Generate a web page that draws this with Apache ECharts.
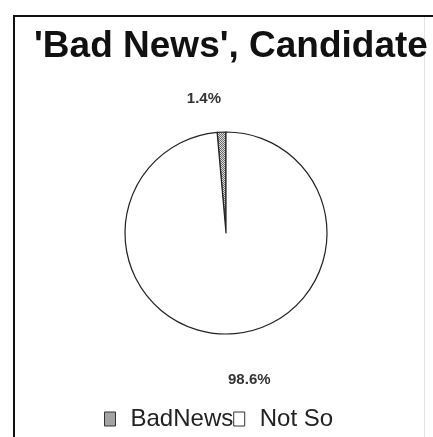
<!DOCTYPE html>
<html>
<head>
<meta charset="utf-8">
<script src="https://cdn.jsdelivr.net/npm/echarts@6/dist/echarts.min.js"></script>
<style>
html,body{margin:0;padding:0;background:#fff;}
#c{width:433px;height:437px;}
</style>
</head>
<body>
<div id="c"></div>
<script>
var titleText = "'Bad News', Candidate";
var categories = ['BadNews', 'Not So'];
var values = [1.4, 98.6];
var labelTexts = ['1.4%', '98.6%'];

function makePattern() {
  var cv = document.createElement('canvas');
  cv.width = 2; cv.height = 2;
  var ctx = cv.getContext('2d');
  ctx.fillStyle = '#dcdcdc';
  ctx.fillRect(0, 0, 2, 2);
  ctx.fillStyle = '#6a6a6a';
  ctx.fillRect(0, 0, 1, 1);
  ctx.fillRect(1, 1, 1, 1);
  return cv;
}
var pattern = { image: makePattern(), repeat: 'repeat' };
var fills = [pattern, '#ffffff'];
var labelShift = [{ dx: 1, dy: 3 }, { dx: -4, dy: 10 }];

var chart = echarts.init(document.getElementById('c'), null, {renderer: 'canvas'});
var data = categories.map(function (name, i) {
  return {
    name: name,
    value: values[i],
    itemStyle: { color: fills[i] },
    label: { formatter: labelTexts[i] }
  };
});

chart.setOption({
  backgroundColor: '#ffffff',
  animation: false,
  title: {
    text: titleText,
    left: 226,
    textAlign: 'center',
    top: 23,
    textStyle: { fontFamily: 'Liberation Sans, Arial, sans-serif', fontSize: 37, fontWeight: 'bold', color: '#111' }
  },
  legend: {
    left: 99,
    top: 402,
    itemWidth: 11,
    itemHeight: 14,
    itemGap: 0,
    icon: 'rect',
    data: categories,
    textStyle: { fontFamily: 'Liberation Sans, Arial, sans-serif', fontSize: 24, color: '#222', padding: [0, 0, 0, 10] },
    itemStyle: { borderColor: '#333', borderWidth: 1 }
  },
  graphic: [
    { type: 'line', shape: { x1: 14, y1: 15, x2: 14, y2: 437 }, style: { stroke: '#111', lineWidth: 2 } },
    { type: 'line', shape: { x1: 13, y1: 16, x2: 433, y2: 16 }, style: { stroke: '#111', lineWidth: 2 } },
    { type: 'line', shape: { x1: 424.5, y1: 17, x2: 424.5, y2: 437 }, style: { stroke: '#e4e4e4', lineWidth: 1 } }
  ],
  series: [{
    type: 'pie',
    center: [226, 233],
    radius: 101,
    startAngle: 90,
    clockwise: false,
    avoidLabelOverlap: false,
    data: data,
    itemStyle: { borderColor: '#222', borderWidth: 1.2 },
    labelLine: { show: false, length: 36, length2: 0 },
    label: {
      show: true,
      position: 'outside',
      distanceToLabelLine: 0,
      fontFamily: 'Liberation Sans, Arial, sans-serif',
      fontSize: 15,
      fontWeight: 'bold',
      color: '#333'
    },
    labelLayout: function (params) {
      return labelShift[params.dataIndex];
    },
    emphasis: { disabled: true }
  }]
});
</script>
</body>
</html>
